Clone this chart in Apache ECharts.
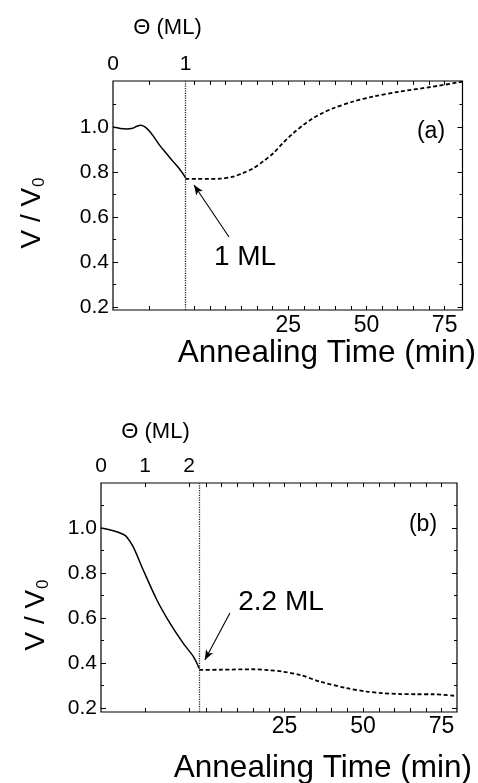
<!DOCTYPE html>
<html>
<head>
<meta charset="utf-8">
<script src="https://cdn.jsdelivr.net/npm/echarts@6/dist/echarts.min.js"></script>
<style>html,body{margin:0;padding:0;background:#fff}#c{width:478px;height:783px}</style>
</head>
<body>
<div id="c"></div>
<script>
// ---- Panel (a) data ----
const thetaA = [0, 0.05, 0.1, 0.19, 0.27, 0.33, 0.38, 0.44, 0.51, 0.58, 0.65, 0.74, 0.83, 0.92, 1.0];
const solidA = [1.0, 0.997, 0.993, 0.991, 0.994, 1.003, 1.007, 1.0, 0.979, 0.948, 0.916, 0.881, 0.846, 0.812, 0.775];
const timeA = [-7.9, -4, 0, 3.2, 7.4, 10.5, 13.8, 17, 20.2, 23.4, 26.6, 29.8, 33.0, 36.2, 39.4, 45.8, 52.2, 60.7, 71.3, 80.7];
const dashA = [0.769, 0.769, 0.769, 0.770, 0.779, 0.795, 0.816, 0.847, 0.883, 0.930, 0.972, 1.008, 1.039, 1.063, 1.083, 1.113, 1.135, 1.157, 1.179, 1.201];
// ---- Panel (b) data ----
const thetaB = [0, 0.28, 0.5, 0.58, 0.73, 0.96, 1.27, 1.57, 1.87, 2.10, 2.23];
const solidB = [1.0, 0.988, 0.972, 0.961, 0.917, 0.813, 0.680, 0.576, 0.487, 0.428, 0.376];
const timeB = [-2.1, 5, 15.1, 20, 24.6, 29.9, 36.3, 44.8, 51.2, 56, 61.8, 67, 72.4, 79.8];
const dashB = [0.369, 0.370, 0.372, 0.368, 0.361, 0.347, 0.317, 0.288, 0.273, 0.266, 0.262, 0.261, 0.261, 0.253];
// ---- Ticks / labels ----
const timeLabels = [25, 50, 75];
const timeTicksA = [-5,0,5,10,15,20,25,30,35,40,45,50,55,60,65,70,75];
const timeTicksB = [0,5,10,15,20,25,30,35,40,45,50,55,60,65,70,75];
const thetaLabelsA = [0, 1];
const thetaTicksA = [0.5];
const thetaLabelsB = [0, 1, 2];
const thetaTicksB = [1, 2];
const yLabels = [0.2, 0.4, 0.6, 0.8, 1.0];
const yMajor = [0.2, 0.4, 0.6, 0.8, 1.0];
const yMinor = [0.3, 0.5, 0.7, 0.9, 1.1];
const depositA = 1.0, depositB = 2.23;
const arrowA = [[1.6, 0.511], [1.117, 0.742]];
const arrowB = [[2.93, 0.622], [2.36, 0.413]];

const FONT = "'Liberation Sans', Arial, Helvetica, sans-serif";
const zip = (xs, ys) => xs.map((x, i) => [x, ys[i]]);
const tick = (vals, len) => ({show: true, inside: true, length: len, customValues: vals, lineStyle: {color: '#000', width: 1}});

function xAxesFor(g, tMin, tMax, thMax, thLabels, thTicks, tTicks, bMargin) {
  const base = {type: 'value', gridIndex: g, axisLine: {show: false, onZero: false}, splitLine: {show: false}};
  return [
    Object.assign({}, base, {position: 'bottom', min: tMin, max: tMax,
      axisLabel: {customValues: timeLabels, fontSize: 23, margin: bMargin, color: '#000', fontFamily: FONT},
      axisTick: tick(tTicks, 4)}),
    Object.assign({}, base, {position: 'top', min: 0, max: thMax,
      axisLabel: {customValues: thLabels, fontSize: 21, margin: 6, color: '#000', fontFamily: FONT},
      axisTick: tick(thTicks, 4)}),
    Object.assign({}, base, {position: 'top', min: tMin, max: tMax, axisLabel: {show: false}, axisTick: tick(tTicks, 4)}),
    Object.assign({}, base, {position: 'bottom', min: 0, max: thMax, axisLabel: {show: false}, axisTick: tick(thTicks, 4)})
  ];
}
function yAxesFor(g, yMin, yMax) {
  const base = {type: 'value', gridIndex: g, min: yMin, max: yMax, axisLine: {show: false, onZero: false}, splitLine: {show: false}};
  return [
    Object.assign({}, base, {position: 'left',
      axisLabel: {customValues: yLabels, fontSize: 21, margin: 4, color: '#000', fontFamily: FONT, formatter: v => v.toFixed(1)},
      axisTick: tick(yMajor, 5)}),
    Object.assign({}, base, {position: 'left', axisLabel: {show: false}, axisTick: tick(yMinor, 3)}),
    Object.assign({}, base, {position: 'right', axisLabel: {show: false}, axisTick: tick(yMajor, 5)}),
    Object.assign({}, base, {position: 'right', axisLabel: {show: false}, axisTick: tick(yMinor, 3)})
  ];
}
function markFor(dep, arrow) {
  return {
    silent: true, animation: false, symbol: ['none', 'none'], label: {show: false},
    data: [
      {xAxis: dep, lineStyle: {type: [1.2, 1.2], color: '#222', width: 1.3}},
      [{coord: arrow[0], symbol: 'none', lineStyle: {type: 'solid', color: '#000', width: 1.1}},
       {coord: arrow[1], symbol: 'arrow', symbolSize: [6, 10]}]
    ]
  };
}

const chart = echarts.init(document.getElementById('c'), null, {renderer: 'canvas'});
chart.setOption({
  animation: false,
  backgroundColor: '#fff',
  textStyle: {fontFamily: FONT},
  grid: [
    {left: 113, top: 81, width: 349.5, height: 229, show: true, borderColor: '#000', borderWidth: 1.2, backgroundColor: 'transparent'},
    {left: 101, top: 483, width: 356, height: 229, show: true, borderColor: '#000', borderWidth: 1.2, backgroundColor: 'transparent'}
  ],
  xAxis: [].concat(
    xAxesFor(0, -31.0, 80.7, 4.82, thetaLabelsA, thetaTicksA, timeTicksA, 4),
    xAxesFor(1, -33.4, 79.9, 8.09, thetaLabelsB, thetaTicksB, timeTicksB, 3)
  ),
  yAxis: [].concat(yAxesFor(0, 0.187, 1.204), yAxesFor(1, 0.182, 1.2)),
  series: [
    {type: 'line', xAxisIndex: 1, yAxisIndex: 0, data: zip(thetaA, solidA), showSymbol: false, smooth: 0.3,
     lineStyle: {color: '#000', width: 1.5}, markLine: markFor(depositA, arrowA)},
    {type: 'line', xAxisIndex: 0, yAxisIndex: 0, data: zip(timeA, dashA), showSymbol: false, smooth: 0.3,
     lineStyle: {color: '#000', width: 1.8, type: [4, 2.5]}},
    {type: 'line', xAxisIndex: 5, yAxisIndex: 4, data: zip(thetaB, solidB), showSymbol: false, smooth: 0.3,
     lineStyle: {color: '#000', width: 1.5}, markLine: markFor(depositB, arrowB)},
    {type: 'line', xAxisIndex: 4, yAxisIndex: 4, data: zip(timeB, dashB), showSymbol: false, smooth: 0.3,
     lineStyle: {color: '#000', width: 1.8, type: [4, 2.5]}}
  ],
  graphic: [
    {type: 'text', x: 167.5, y: 28, style: {text: 'Θ (ML)', fontSize: 22, fontFamily: FONT, fill: '#000', align: 'center', verticalAlign: 'middle'}},
    {type: 'text', x: 155.5, y: 432, style: {text: 'Θ (ML)', fontSize: 22, fontFamily: FONT, fill: '#000', align: 'center', verticalAlign: 'middle'}},
    {type: 'text', x: 431, y: 132, style: {text: '(a)', fontSize: 23, fontFamily: FONT, fill: '#000', align: 'center', verticalAlign: 'middle'}},
    {type: 'text', x: 423, y: 525, style: {text: '(b)', fontSize: 23, fontFamily: FONT, fill: '#000', align: 'center', verticalAlign: 'middle'}},
    {type: 'text', x: 245, y: 257, style: {text: '1 ML', fontSize: 28, fontFamily: FONT, fill: '#000', align: 'center', verticalAlign: 'middle'}},
    {type: 'text', x: 281, y: 602, style: {text: '2.2 ML', fontSize: 28, fontFamily: FONT, fill: '#000', align: 'center', verticalAlign: 'middle'}},
    {type: 'text', x: 476, y: 353, style: {text: 'Annealing Time (min)', fontSize: 31.5, fontFamily: FONT, fill: '#000', align: 'right', verticalAlign: 'middle'}},
    {type: 'text', x: 472, y: 768, style: {text: 'Annealing Time (min)', fontSize: 31.5, fontFamily: FONT, fill: '#000', align: 'right', verticalAlign: 'middle'}},
    {type: 'text', x: 32, y: 213, rotation: Math.PI / 2, style: {text: 'V / V{s|0}', fontSize: 28, fontFamily: FONT, fill: '#000', align: 'center', verticalAlign: 'middle',
      rich: {s: {fontSize: 17, fontFamily: FONT, fill: '#000', verticalAlign: 'bottom', padding: [14, 0, 0, 1]}}}},
    {type: 'text', x: 36, y: 615, rotation: Math.PI / 2, style: {text: 'V / V{s|0}', fontSize: 28, fontFamily: FONT, fill: '#000', align: 'center', verticalAlign: 'middle',
      rich: {s: {fontSize: 17, fontFamily: FONT, fill: '#000', verticalAlign: 'bottom', padding: [14, 0, 0, 1]}}}}
  ]
});
</script>
</body>
</html>
